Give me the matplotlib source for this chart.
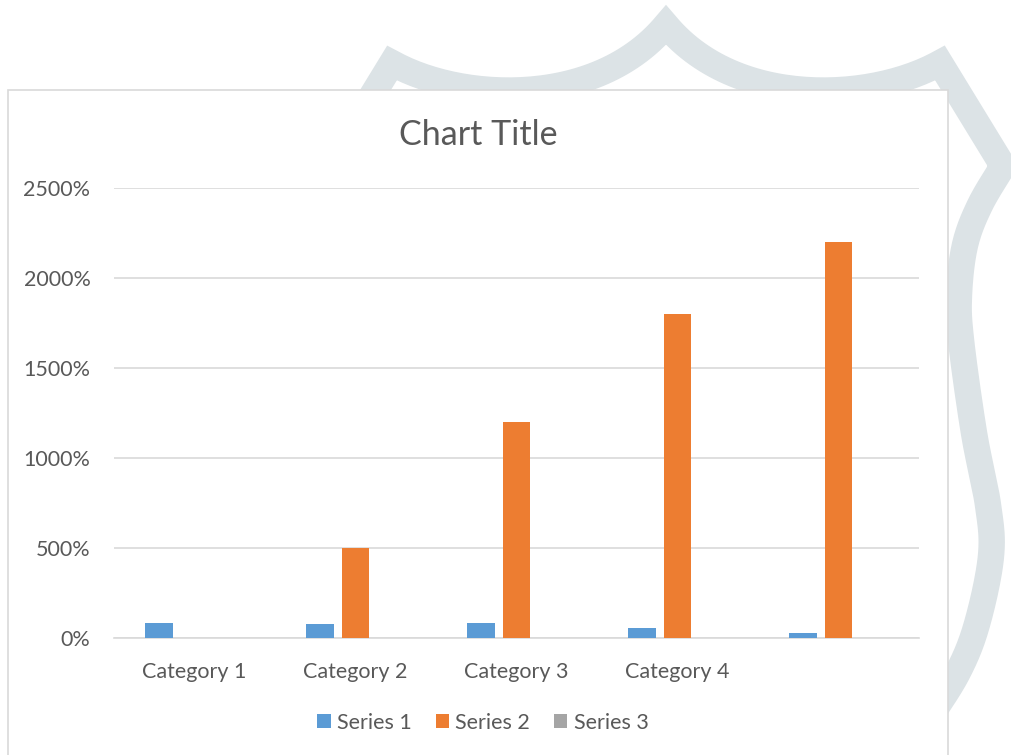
import numpy as np
import matplotlib
matplotlib.use("Agg")
import matplotlib.pyplot as plt
from matplotlib.patches import Rectangle
from matplotlib.ticker import FuncFormatter

# ---- data ----
categories = ["Category 1", "Category 2", "Category 3", "Category 4", ""]
series_names = ["Series 1", "Series 2", "Series 3"]
series1 = [0.83, 0.76, 0.81, 0.53, 0.26]
series2 = [0.0, 5.0, 12.0, 18.0, 22.0]
series3 = [0.0, 0.0, 0.0, 0.0, 0.0]
y_ticks = [0, 5, 10, 15, 20, 25]
colors = ["#5B9BD5", "#ED7D31", "#A5A5A5"]

TEXT = "#595959"
GRID = "#D9D9D9"
FONT = "Lato"

W, H = 1011, 755
fig = plt.figure(figsize=(W / 100, H / 100), dpi=100)

# ---- background decoration (badge outline) in pixel coords ----
bg = fig.add_axes([0, 0, 1, 1])
bg.set_xlim(0, W)
bg.set_ylim(H, 0)
bg.axis("off")


def bezier(p0, p1, p2, p3, n=60):
    t = np.linspace(0, 1, n)[:, None]
    p0, p1, p2, p3 = map(np.asarray, (p0, p1, p2, p3))
    return ((1 - t) ** 3) * p0 + 3 * ((1 - t) ** 2) * t * p1 + 3 * (1 - t) * t ** 2 * p2 + t ** 3 * p3


def catmull(pts, n=20):
    pts = np.asarray(pts, float)
    P = np.vstack([pts[0], pts, pts[-1]])
    out = []
    for i in range(1, len(P) - 2):
        p0, p1, p2, p3 = P[i - 1], P[i], P[i + 1], P[i + 2]
        t = np.linspace(0, 1, n, endpoint=False)[:, None]
        seg = 0.5 * ((2 * p1) + (-p0 + p2) * t + (2 * p0 - 5 * p1 + 4 * p2 - p3) * t ** 2
                     + (-p0 + 3 * p1 - 3 * p2 + p3) * t ** 3)
        out.append(seg)
    out.append(pts[-1:])
    return np.vstack(out)


cx = 666
arc_r = bezier((666, 25), (735, 108), (870, 102), (940, 63))
side_r = np.vstack([[[940, 63]], catmull([(1003, 166), (980, 205), (965, 245), (959, 295),
                                          (961, 340), (974, 433), (988, 505), (991, 556),
                                          (977, 624), (958, 672), (928, 720), (895, 770)])])
right = np.vstack([arc_r, side_r])
left = right[::-1].copy()
left[:, 0] = 2 * cx - left[:, 0]
shape = np.vstack([left, right[1:]])
bg.plot(shape[:, 0], shape[:, 1], color="#DCE3E6", lw=19, solid_joinstyle="miter",
        solid_capstyle="butt", zorder=1)

# chart area box
bg.add_patch(Rectangle((8, 90), 940, 700, facecolor="white", edgecolor=GRID, lw=1.2, zorder=2))

# ---- main chart ----
ax = fig.add_axes([114 / W, 1 - 638 / H, (919 - 114) / W, (638 - 188) / H])
ax.patch.set_alpha(0)
x = np.arange(len(categories))
bw = 0.171
off = 0.221
for i, (vals, c, name) in enumerate(zip([series1, series2, series3], colors, series_names)):
    ax.bar(x + (i - 1) * off, vals, width=bw, color=c, label=name, zorder=3)

ax.set_xlim(-0.5, len(categories) - 0.5)
ax.set_ylim(0, 25)
ax.set_yticks(y_ticks)
ax.yaxis.set_major_formatter(FuncFormatter(lambda v, p: f"{v * 100:.0f}%"))
ax.grid(axis="y", color=GRID, lw=1.2, zorder=0)
ax.set_axisbelow(True)
for s in ["top", "right", "left"]:
    ax.spines[s].set_visible(False)
ax.spines["bottom"].set_color(GRID)
ax.spines["bottom"].set_linewidth(1.2)
ax.set_xticks(x)
ax.set_xticklabels(categories)
ax.tick_params(axis="both", length=0, colors=TEXT, labelsize=15.5)
ax.tick_params(axis="x", pad=17)
ax.tick_params(axis="y", pad=17)
for lab in ax.get_xticklabels() + ax.get_yticklabels():
    lab.set_fontfamily(FONT)
    lab.set_color(TEXT)

fig.text(478 / W, 1 - 135 / H, "Chart Title", ha="center", va="center",
         fontsize=24.5, color=TEXT, family=FONT)

leg = fig.legend(loc="center", bbox_to_anchor=(483 / W, 1 - 723 / H), ncol=3, frameon=False,
                 handlelength=0.62, handleheight=0.62, handletextpad=0.3, columnspacing=1.1,
                 prop={"family": FONT, "size": 15.5})
for t in leg.get_texts():
    t.set_color(TEXT)

fig.savefig("out.png", dpi=100)
